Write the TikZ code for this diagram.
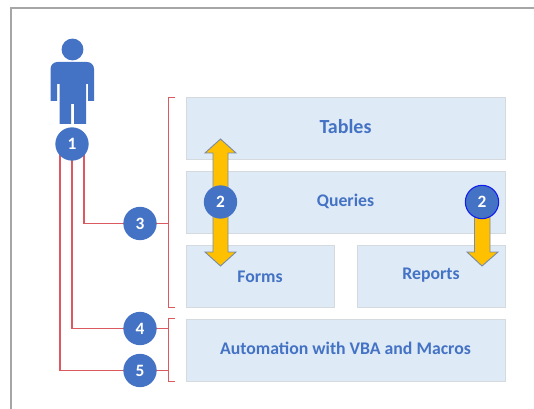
\documentclass[tikz,border=0pt]{standalone}
\usepackage{fontspec}
\setmainfont{Carlito}
\usetikzlibrary{positioning}
\definecolor{boxfill}{HTML}{DEEAF6}
\definecolor{boxline}{HTML}{D5DADF}
\definecolor{accblue}{HTML}{4472C4}
\definecolor{linered}{HTML}{DB5A60}
\definecolor{arrowgold}{HTML}{FFC000}
\definecolor{arrowline}{HTML}{7A8CA6}
\definecolor{framegray}{HTML}{A6A6A6}
\tikzset{
	areabox/.style={draw=boxline,line width=0.8pt,fill=boxfill,inner sep=0pt},
	arealabel/.style={text=accblue,font=\bfseries\fontsize{13.3}{15}\selectfont},
	numdot/.style={circle,fill=accblue,text=white,minimum size=25pt,inner sep=0pt,font=\bfseries\fontsize{13}{15}\selectfont},
	redline/.style={draw=linered,line width=1.3pt},
	goldarrow/.style={draw=arrowline,line width=0.7pt,fill=arrowgold,line join=miter}
}
\begin{document}
\begin{tikzpicture}[line cap=butt,x=0.75pt,y=-0.75pt]
	\useasboundingbox (0,0) rectangle (534,409);
	\draw [framegray,line width=1pt] (11,409)-- (11,8)-- (534,8);
	% person
	\fill [accblue] (72.5,49.5) circle (8.2pt);
	\fill [accblue] (50.5,101)-- (50.5,69) to [out=90,in=180] (57.5,62)-- (87,62) to [out=0,in=90] (94,69)-- (94,101)-- (88,101)-- (88,84)-- (86,84)-- (86,124)-- (74,124)-- (74,104)-- (71,104)-- (71,124)-- (59.5,124)-- (59.5,84)-- (57,84)-- (57,101)-- cycle;
	% boxes
	\node [areabox,minimum width=239pt,minimum height=47pt] (tables) at (345.8,128.5) {};
	\node [areabox,minimum width=239pt,minimum height=47pt] (queries) at (345.8,202.5) {};
	\node [areabox,minimum width=111pt,minimum height=47pt] (forms) at (260.5,276.5) {};
	\node [areabox,minimum width=111pt,minimum height=47pt] (reports) at (431.3,276.5) {};
	\node [areabox,minimum width=239pt,minimum height=47pt] (auto) at (345.8,350.5) {};
	% arrows
	\draw [goldarrow] (220.5,139)-- (236,153)-- (228,153)-- (228,252)-- (236,252)-- (220.5,266)-- (205,252)-- (213,252)-- (213,153)-- (205,153)-- cycle;
	\draw [goldarrow] (474.5,202)-- (490,202)-- (490,252)-- (498,252)-- (482,266)-- (467,252)-- (474.5,252)-- cycle;
	% labels
	\node [arealabel,font=\bfseries\fontsize{15}{17}\selectfont] (tablestxt) at (345.5,126.5) {Tables};
	\node [arealabel] (queriestxt) at (345.5,201) {Queries};
	\node [arealabel] (formstxt) at (260,276.5) {Forms};
	\node [arealabel] (reportstxt) at (431,275.5) {Reports};
	\node [arealabel] (autotxt) at (345.5,348.5) {Automation with VBA and Macros};
	% brackets
	\coordinate (brA) at (175,97.5);
	\coordinate (brB) at (175,307.5);
	\coordinate (brC) at (175,318.5);
	\coordinate (brD) at (175,381.5);
	\coordinate (brX) at (168.5,320);
	\draw [redline] (brA)-- (brA -| brX)-- (brB -| brX)-- (brB);
	\draw [redline] (brC)-- (brC -| brX)-- (brD -| brX)-- (brD);
	% connectors
	\coordinate (tapA) at (84,150);
	\coordinate (tapB) at (72,150);
	\coordinate (tapC) at (60,150);
	\coordinate (threeC) at (140,223.5);
	\coordinate (fourC) at (140,328.5);
	\coordinate (fiveC) at (140,370.5);
	\draw [redline] (tapA) |- (threeC);
	\draw [redline] (tapB) |- (fourC);
	\draw [redline] (tapC) |- (fiveC);
	\draw [redline] (threeC)-- (threeC -| brX);
	\draw [redline] (fourC)-- (fourC -| brX);
	\draw [redline] (fiveC)-- (fiveC -| brX);
	% circles
	\node [numdot] (usr) at (72,144) {1};
	\node [numdot] (three) at (threeC) {3};
	\node [numdot] (four) at (fourC) {4};
	\node [numdot] (five) at (fiveC) {5};
	\node [numdot] (twoA) at (220.5,202) {2};
	\node [numdot,draw=blue!75!accblue,line width=0.8pt] (twoB) at (482,202) {2};
\end{tikzpicture}
\end{document}
